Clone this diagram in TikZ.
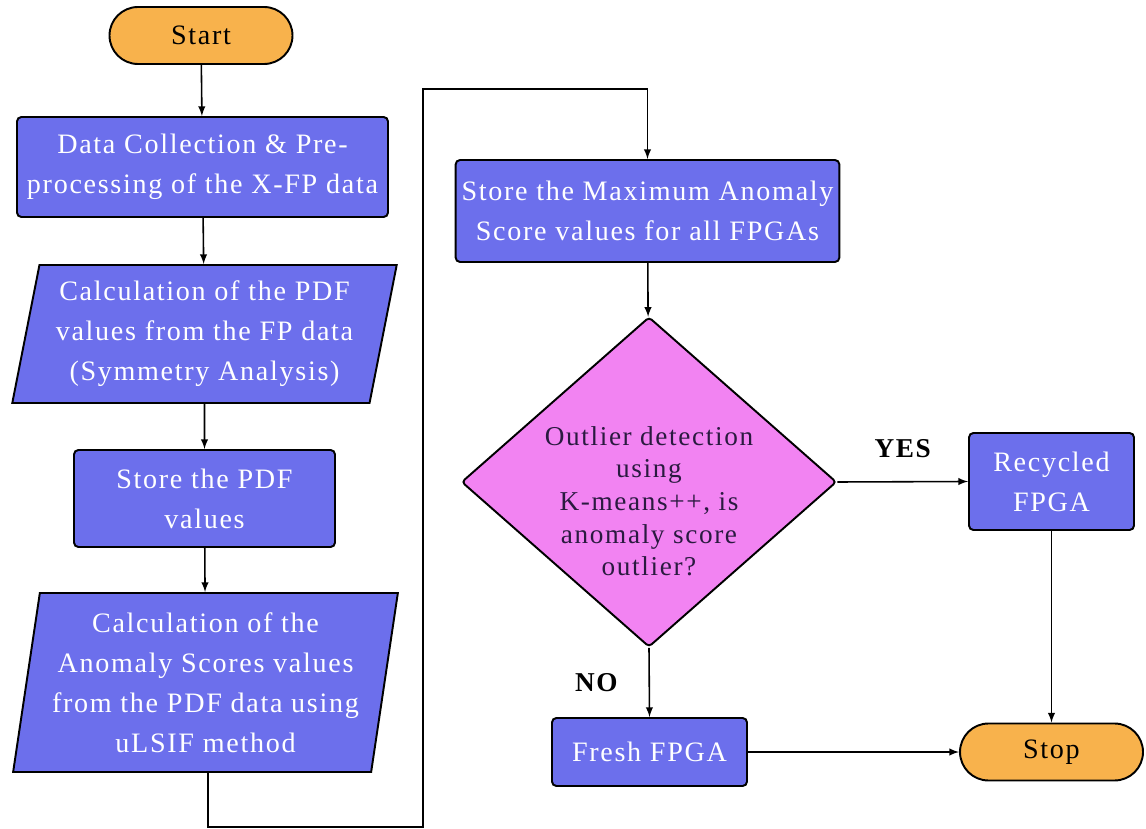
\documentclass[tikz,border=0pt]{standalone}
\usepackage{fontspec}
\setmainfont{Liberation Serif}[LetterSpace=6.0]
\usetikzlibrary{arrows,shapes,positioning,calc}
\definecolor{myBlue}{HTML}{6C6FEC}
\definecolor{myPink}{HTML}{F283F2}
\definecolor{myOrange}{HTML}{F8B24C}
\definecolor{myText}{HTML}{2A1A40}

\begin{document}
\begin{tikzpicture}
[
arr/.style={->,>=latex, line width=0.9pt},
terminal/.style={rectangle,rounded corners=0.57cm,fill=myOrange,draw=black,line width=1.1pt,minimum width=3.66cm,minimum height=1.14cm,font=\fontsize{16}{22}\selectfont},
process/.style={rectangle,rounded corners=2.5pt,fill=myBlue,draw=black,line width=1.1pt,text=white,align=center,font=\fontsize{16}{22.8}\selectfont},
io/.style={trapezium,trapezium stretches=true,fill=myBlue,draw=black,line width=1.1pt,text=white,align=center,font=\fontsize{16}{22.8}\selectfont,inner sep=0pt},
decision/.style={diamond,fill=myPink,draw=black,line width=1.1pt,text=myText,align=center,inner sep=-0.6cm,rounded corners=2pt,font=\fontsize{15.5}{18.6}\selectfont},
answer/.style={font=\fontsize{15.5}{18}\selectfont\bfseries},
]
\useasboundingbox (0,0) rectangle (22.92,-16.58);

% Nodes
\node[terminal] (start) at (4.02,-0.71) {Start};
\node[process,minimum width=7.42cm,minimum height=2.0cm] (collect) at (4.05,-3.34) {Data Collection \& Pre-\\processing of the X-FP data};
\node[io,trapezium left angle=77,trapezium right angle=103,minimum width=7.7cm,minimum height=2.76cm] (pdfcalc) at (4.09,-6.68) {Calculation of the PDF\\values from the FP data\\(Symmetry Analysis)};
\node[process,minimum width=5.22cm,minimum height=1.94cm] (pdfstore) at (4.09,-9.97) {Store the PDF\\values};
\node[io,trapezium left angle=80,trapezium right angle=100,minimum width=7.7cm,minimum height=3.58cm] (scorecalc) at (4.11,-13.65) {Calculation of the\\Anomaly Scores values\\from the PDF data using\\uLSIF method};
\node[process,minimum width=7.66cm,minimum height=2.04cm] (maxstore) at (12.95,-4.22) {Store the Maximum Anomaly\\Score values for all FPGAs};
\node[decision,minimum width=7.5cm,minimum height=6.6cm,aspect=1.14] (outlier) at (12.98,-9.64) {\rule{0pt}{1.15cm}Outlier detection\\using\\K-means++, is\\anomaly score\\outlier?};
\node[process,minimum width=3.3cm,minimum height=1.94cm] (recycled) at (21.03,-9.63) {Recycled\\FPGA};
\node[process,minimum width=3.9cm,minimum height=1.36cm] (fresh) at (12.99,-15.04) {Fresh FPGA};
\node[terminal] (stop) at (21.03,-15.04) {Stop};
\coordinate (loopbottom) at (4.16,-16.54);
\coordinate (looptop) at (8.46,-1.78);

% Edges
\draw[arr] (start) -- (collect);
\draw[arr] (collect) -- (pdfcalc);
\draw[arr] (pdfcalc) -- (pdfstore);
\draw[arr] (pdfstore) -- (scorecalc);
\draw[arr] (scorecalc.south -| loopbottom) -- (loopbottom) -| (looptop) -| (maxstore.north);
\draw[arr] (maxstore) -- (outlier);
\draw[arr] (outlier.east) -- (recycled.west) node[answer,pos=0.5,above=0.35cm] {YES};
\draw[arr] (outlier.south) -- (fresh.north) node[answer,pos=0.5,left=0.5cm] {NO};
\draw[arr] (fresh.east) -- (stop.west);
\draw[arr] (recycled.south) -- (stop.north);

\end{tikzpicture}
\end{document}
